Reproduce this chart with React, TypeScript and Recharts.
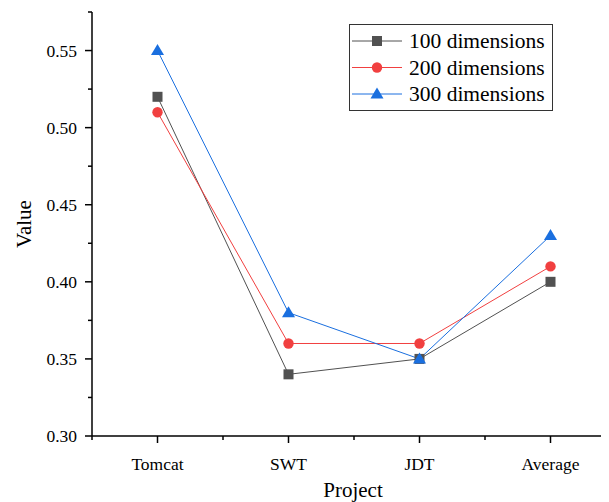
import React from 'react';
import { LineChart, Line, XAxis, YAxis, Legend } from 'recharts';

const categories = ['Tomcat', 'SWT', 'JDT', 'Average'];
const dim100 = [0.52, 0.34, 0.35, 0.40];
const dim200 = [0.51, 0.36, 0.36, 0.41];
const dim300 = [0.55, 0.38, 0.35, 0.43];
const seriesNames = ['100 dimensions', '200 dimensions', '300 dimensions'];
const yTicks = [0.3, 0.325, 0.35, 0.375, 0.4, 0.425, 0.45, 0.475, 0.5, 0.525, 0.55, 0.575];
const xTicks = [-0.5, 0, 0.5, 1, 1.5, 2, 2.5, 3];

const COLORS = ['#515151', '#F14040', '#1A6FDF'];
const FONT = '"Liberation Serif", "Times New Roman", Times, serif';

const data = categories.map((c, i) => ({
  idx: i,
  name: c,
  d100: dim100[i],
  d200: dim200[i],
  d300: dim300[i],
}));

const Marker = ({ kind, cx, cy, color }: any) => {
  if (kind === 0) return <rect x={cx - 5} y={cy - 5} width={10} height={10} fill={color} />;
  if (kind === 1) return <circle cx={cx} cy={cy} r={5.2} fill={color} />;
  return <polygon points={`${cx},${cy - 6.5} ${cx + 6.5},${cy + 4.5} ${cx - 6.5},${cy + 4.5}`} fill={color} />;
};

const makeDot = (kind: number) => (props: any) => (
  <Marker key={`dot-${kind}-${props.index}`} kind={kind} cx={props.cx} cy={props.cy} color={COLORS[kind]} />
);

const XTick = (props: any) => {
  const { x, y, payload } = props;
  const v = payload.value;
  const major = Number.isInteger(v);
  return (
    <g>
      <line x1={x} x2={x} y1={y} y2={y + (major ? 7 : 4)} stroke="#000" strokeWidth={1.5} />
      {major && categories[v] !== undefined && (
        <text x={x} y={y + 34} textAnchor="middle" style={{ fontFamily: FONT }} fontSize={17.5} fill="#000">
          {categories[v]}
        </text>
      )}
    </g>
  );
};

const YTick = (props: any) => {
  const { x, y, payload } = props;
  const v = payload.value;
  const major = Math.abs(v * 20 - Math.round(v * 20)) < 1e-6;
  return (
    <g>
      <line x1={x} x2={x - (major ? 7 : 4)} y1={y} y2={y} stroke="#000" strokeWidth={1.5} />
      {major && (
        <text x={x - 15} y={y + 6} textAnchor="end" style={{ fontFamily: FONT }} fontSize={17.5} fill="#000">
          {v.toFixed(2)}
        </text>
      )}
    </g>
  );
};

const LegendBox = () => (
  <svg width={204} height={87} style={{ display: 'block' }}>
    <rect x={0.5} y={0.5} width={203} height={86} fill="#fff" stroke="#333" strokeWidth={1} />
    {seriesNames.map((n, i) => {
      const ry = 17 + i * 26.5;
      return (
        <g key={n}>
          <line x1={3} x2={53} y1={ry} y2={ry} stroke={COLORS[i]} strokeWidth={1} />
          <Marker kind={i} cx={28} cy={ry} color={COLORS[i]} />
          <text x={60} y={ry + 7} style={{ fontFamily: FONT }} fontSize={21.5} fill="#000">
            {n}
          </text>
        </g>
      );
    })}
  </svg>
);

export default function App() {
  return (
    <div
      style={{
        width: 601,
        height: 494,
        marginRight: -8,
        overflow: 'hidden',
        position: 'relative',
        background: '#fff',
      }}
    >
      <style>{'html, body { overflow: hidden; } svg:focus, svg *:focus { outline: none; }'}</style>
      <LineChart
        width={601}
        height={494}
        data={data}
        accessibilityLayer={false}
        margin={{ top: 4, right: -7, bottom: 0, left: 0 }}
        style={{ display: 'block', outline: 'none' }}
      >
        <XAxis
          dataKey="idx"
          type="number"
          domain={[-0.5, 3.5]}
          ticks={xTicks}
          interval={0}
          height={66}
          tickSize={0}
          tickMargin={0}
          tickLine={false}
          axisLine={{ stroke: '#000', strokeWidth: 1.5 }}
          tick={<XTick />}
          label={(p: any) => {
            const vb = p.viewBox;
            return (
              <text x={vb.x + vb.width / 2 - 1} y={vb.y + 61} textAnchor="middle" style={{ fontFamily: FONT }} fontSize={21} fill="#000">
                Project
              </text>
            );
          }}
        />
        <YAxis
          type="number"
          domain={[0.3, 0.575]}
          ticks={yTicks}
          interval={0}
          width={84}
          tickSize={0}
          tickMargin={0}
          tickLine={false}
          axisLine={{ stroke: '#000', strokeWidth: 1.5 }}
          tick={<YTick />}
          label={(p: any) => {
            const vb = p.viewBox;
            const cx = vb.x + 16;
            const cy = vb.y + vb.height / 2;
            return (
              <text x={cx} y={cy} transform={`rotate(-90, ${cx}, ${cy})`} textAnchor="middle" dominantBaseline="central" style={{ fontFamily: FONT }} fontSize={21} fill="#000">
                Value
              </text>
            );
          }}
        />
        <Legend
          layout="vertical"
          align="center"
          verticalAlign="middle"
          content={() => <LegendBox />}
          wrapperStyle={{ position: 'absolute', left: 341, top: 16, width: 204, height: 87 }}
        />
        <Line type="linear" dataKey="d100" name={seriesNames[0]} stroke={COLORS[0]} strokeWidth={1} dot={makeDot(0)} activeDot={false} isAnimationActive={false} />
        <Line type="linear" dataKey="d200" name={seriesNames[1]} stroke={COLORS[1]} strokeWidth={1} dot={makeDot(1)} activeDot={false} isAnimationActive={false} />
        <Line type="linear" dataKey="d300" name={seriesNames[2]} stroke={COLORS[2]} strokeWidth={1} dot={makeDot(2)} activeDot={false} isAnimationActive={false} />
      </LineChart>
    </div>
  );
}
